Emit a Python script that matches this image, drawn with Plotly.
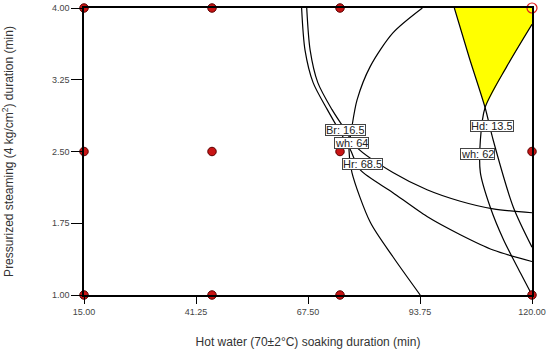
import plotly.graph_objects as go

# Design points
pts_x = [15, 45, 75, 15, 45, 75, 120, 15, 45, 75, 120]
pts_y = [4, 4, 4, 2.5, 2.5, 2.5, 2.5, 1, 1, 1, 1]
open_pt_x = [120]
open_pt_y = [4]

# Contour curves
br_x = [66.0, 66.8, 68.7, 72.0, 74.3, 77.4, 79.7, 87.4, 95.4, 103.2, 110.9, 120.0]
br_y = [4.0, 3.56, 3.22, 2.94, 2.76, 2.52, 2.31, 2.07, 1.82, 1.63, 1.47, 1.35]

wh64_x = [67.2, 68.0, 69.8, 73.1, 75.7, 79.0, 87.4, 95.4, 103.2, 110.9, 120.0]
wh64_y = [4.0, 3.56, 3.22, 2.94, 2.76, 2.54, 2.28, 2.10, 1.98, 1.90, 1.86]

hr_x = [94.3, 87.4, 82.1, 79.0, 77.8, 77.1, 77.8, 82.1, 87.4, 93.8]
hr_y = [4.0, 3.74, 3.39, 3.04, 2.76, 2.52, 2.28, 1.76, 1.40, 1.0]

hd_x = [101.8, 105.3, 109.0, 110.9, 115.6, 120.0]
hd_y = [4.0, 3.48, 2.96, 2.62, 1.92, 1.50]

wh62_x = [120.0, 114.1, 109.0, 107.9, 107.9, 110.2, 113.3, 117.3, 120.0]
wh62_y = [3.83, 3.39, 2.96, 2.62, 2.28, 1.92, 1.58, 1.23, 1.0]

# Labels
lab_text = ["Br: 16.5", "wh: 64", "Hr: 68.5", "Hd: 13.5", "wh: 62"]
lab_x = [76.4, 77.6, 80.2, 110.7, 107.2]
lab_y = [2.72, 2.585, 2.37, 2.77, 2.47]

x_ticks = [15.00, 41.25, 67.50, 93.75, 120.00]
y_ticks = [1.00, 1.75, 2.50, 3.25, 4.00]

FONT = "Arial, Liberation Sans, sans-serif"

fig = go.Figure()

# Yellow feasible region: Hd curve top to vertex, then wh62 from vertex back up
fill_x = hd_x[:3] + wh62_x[:3][::-1] + [120.0]
fill_y = hd_y[:3] + wh62_y[:3][::-1] + [4.0]
fig.add_trace(go.Scatter(x=fill_x, y=fill_y, mode="lines", fill="toself",
                         fillcolor="#ffff00", line=dict(width=0),
                         hoverinfo="skip", showlegend=False))

for cx, cy in [(br_x, br_y), (wh64_x, wh64_y), (hr_x, hr_y), (hd_x, hd_y), (wh62_x, wh62_y)]:
    fig.add_trace(go.Scatter(x=cx, y=cy, mode="lines",
                             line=dict(color="black", width=1.2, shape="spline", smoothing=0.8),
                             showlegend=False, hoverinfo="skip"))

fig.add_trace(go.Scatter(x=pts_x, y=pts_y, mode="markers", cliponaxis=False,
                         marker=dict(size=8.5, color="#c81414", line=dict(color="#5a0000", width=1)),
                         showlegend=False))
fig.add_trace(go.Scatter(x=open_pt_x, y=open_pt_y, mode="markers", cliponaxis=False,
                         marker=dict(size=10, color="rgba(0,0,0,0)", line=dict(color="#e02020", width=1.2)),
                         showlegend=False))

for t, x, y in zip(lab_text, lab_x, lab_y):
    fig.add_annotation(x=x, y=y, text=t, showarrow=False, height=10,
                       font=dict(family=FONT, size=11, color="#222"),
                       bgcolor="white", bordercolor="#444", borderwidth=1, borderpad=0)

fig.update_xaxes(range=[15, 120], tickvals=x_ticks, ticktext=[f"{v:.2f}" for v in x_ticks],
                 showgrid=False, zeroline=False, showline=True, mirror=True, automargin=False,
                 linecolor="black", linewidth=1.5, ticks="outside", ticklen=7,
                 tickcolor="black", tickfont=dict(family=FONT, size=9, color="#444"),
                 title=dict(text="Hot water (70±2°C) soaking duration (min)",
                            font=dict(family=FONT, size=12, color="#333"), standoff=22))
fig.update_yaxes(range=[1, 4], tickvals=y_ticks, ticktext=[f"{v:.2f}" for v in y_ticks],
                 showgrid=False, zeroline=False, showline=True, mirror=True, automargin=False,
                 linecolor="black", linewidth=1.5, ticks="outside", ticklen=11,
                 tickcolor="black", tickfont=dict(family=FONT, size=9, color="#444"),
                 title=dict(text="Pressurized steaming (4 kg/cm<sup>2</sup>) duration (min)",
                            font=dict(family=FONT, size=12, color="#333"), standoff=40))

fig.update_layout(width=550, height=350, margin=dict(l=84, r=18, t=8, b=55),
                  paper_bgcolor="white", plot_bgcolor="white")

fig.write_html("out.html", config={"displayModeBar": False},
               post_script="document.body.style.margin='0';document.body.style.padding='0';")
